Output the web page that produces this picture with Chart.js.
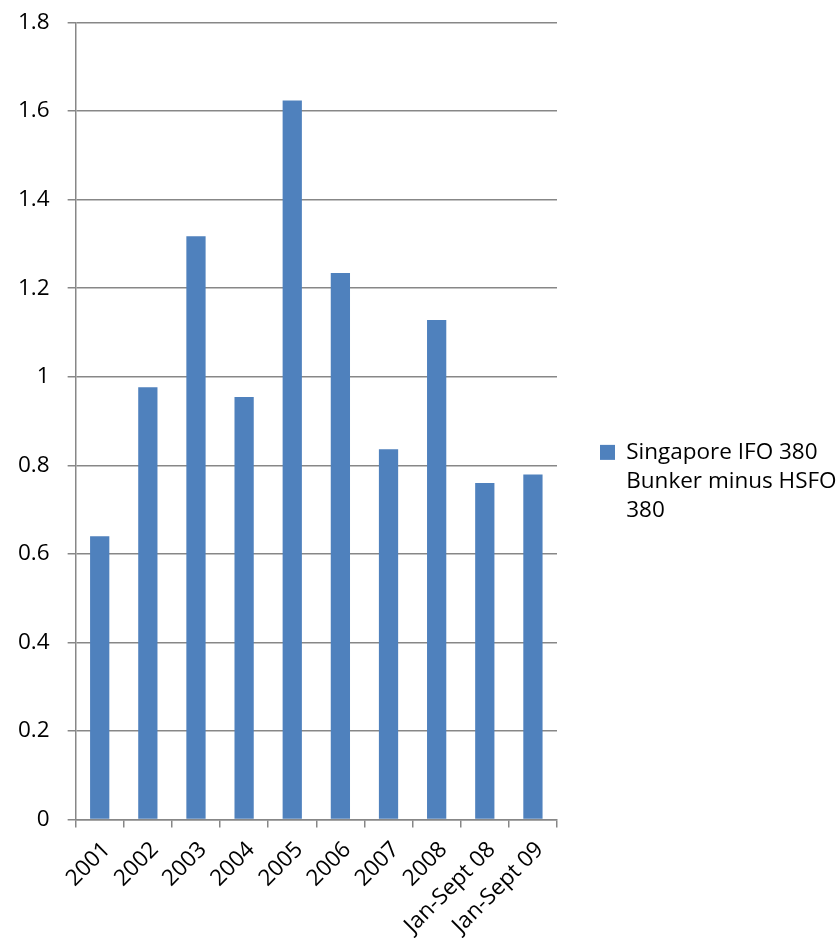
<!DOCTYPE html>
<html>
<head>
<meta charset="utf-8">
<script src="https://cdn.jsdelivr.net/npm/chart.js@4/dist/chart.umd.min.js"></script>
<style>
  body { margin: 0; background: #fff; }
  #wrap { width: 839px; height: 946px; }
</style>
</head>
<body>
<div id="wrap"><canvas id="spread"></canvas></div>
<script>
const categories = ['2001', '2002', '2003', '2004', '2005', '2006', '2007', '2008', 'Jan-Sept 08', 'Jan-Sept 09'];
const spreadValues = [0.64, 0.976, 1.317, 0.954, 1.624, 1.234, 0.836, 1.128, 0.76, 0.779];
const seriesLabel = ['Singapore IFO 380', 'Bunker minus HSFO', '380'];
const yTicks = { min: 0, max: 1.8, step: 0.2 };

const gridGrey = '#878787';
const fontFamily = '"Open Sans", sans-serif';
const fontSize = 22.5;

new Chart(
    document.getElementById('spread'),
    {
    type: 'bar',
    data: {
        labels: categories,
        datasets: [{
            label: seriesLabel,
            data: spreadValues,
            backgroundColor: '#4f81bd',
            borderWidth: 0,
            barPercentage: 0.4,
            categoryPercentage: 1.0
        }]
    },
    options: {
        responsive: true,
        maintainAspectRatio: false,
        animation: false,
        layout: {
            padding: { top: 6, left: 0, right: 0, bottom: 0 }
        },
        scales: {
            x: {
                grid: {
                    drawOnChartArea: false,
                    drawTicks: true,
                    tickLength: 8,
                    color: gridGrey,
                    lineWidth: 1.5
                },
                border: { color: gridGrey, width: 1.5 },
                ticks: {
                    color: '#000',
                    font: { family: fontFamily, size: fontSize },
                    maxRotation: 45,
                    minRotation: 45,
                    padding: 9,
                    labelOffset: 7,
                    autoSkip: false
                },
                // rotated labels ask for room on the left, the y axis already gives it;
                // the last labels run to the bottom edge like in the original
                afterFit: function(scale) {
                    scale.paddingLeft = 0;
                    scale.height -= 2;
                }
            },
            y: {
                min: yTicks.min,
                max: yTicks.max,
                grid: {
                    color: gridGrey,
                    lineWidth: 1.5,
                    tickLength: 8
                },
                border: { color: gridGrey, width: 1.5 },
                ticks: {
                    stepSize: yTicks.step,
                    color: '#000',
                    // small lineHeight keeps the top gap like the original
                    font: { family: fontFamily, size: fontSize, lineHeight: 0.4 },
                    padding: 18,
                    // Excel style: 1 instead of 1.0
                    callback: function(value) {
                        return String(Math.round(value * 10) / 10);
                    }
                }
            }
        },
        plugins: {
            tooltip: { enabled: false },
            legend: {
                position: 'right',
                maxWidth: 282,
                // empty title only pushes the entry down a bit
                title: { display: true, text: '', font: { size: 10 }, padding: 3 },
                labels: {
                    color: '#000',
                    font: { family: fontFamily, size: fontSize, lineHeight: 1.3 },
                    boxWidth: 15,
                    boxHeight: 15,
                    padding: 43
                }
            }
        }
    }
});
</script>
</body>
</html>
